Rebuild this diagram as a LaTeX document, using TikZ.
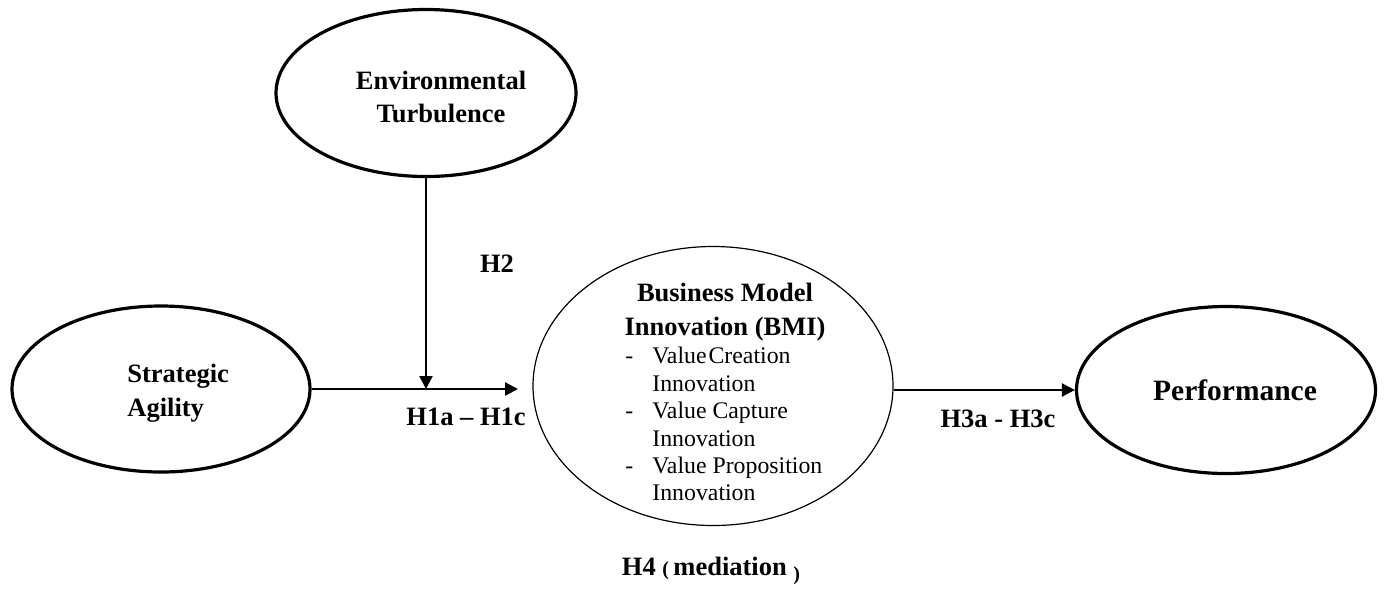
\documentclass[tikz,border=0pt]{standalone}
\usepackage{fontspec}
\setmainfont{Liberation Serif}
\usetikzlibrary{shapes.geometric,arrows.meta}

\tikzset{
    oval/.style={ellipse,draw,line width=1.6pt,inner sep=0pt},
    thinoval/.style={ellipse,draw,line width=0.6pt,inner sep=0pt},
    link/.style={line width=1.2pt,-{Triangle[length=6.5pt,width=6.5pt]}},
    title/.style={inner sep=0pt,font=\bfseries\fontsize{13.25pt}{16.5pt}\selectfont},
    hyp/.style={anchor=base,inner sep=0pt,font=\bfseries\fontsize{13.25pt}{16pt}\selectfont}
}
\newcommand{\bmiitem}[1]{\makebox[13.5pt][l]{-}#1}
\newcommand{\bmicont}[1]{\makebox[13.5pt][l]{}#1}

\begin{document}
\begin{tikzpicture}[x=0.5pt,y=-0.5pt]
        \useasboundingbox (0,0) rectangle (1384,596);
        % 四个椭圆
        \node [oval,minimum width=150pt,minimum height=83.5pt] (env) at (426,93) {};
        \node [oval,minimum width=149pt,minimum height=83pt] (sa) at (161,389) {};
        \node [thinoval,minimum width=180pt,minimum height=139.5pt] (bmi) at (713,386) {};
        \node [oval,minimum width=149.5pt,minimum height=83.5pt] (perf) at (1226,390) {};
        % 文字
        \node [title,anchor=north,align=center] (envtext) at (441,71) {Environmental\\Turbulence};
        \node [title,anchor=north west,align=left,font=\bfseries\fontsize{13.25pt}{17pt}\selectfont] (satext) at (127,364) {Strategic\\Agility};
        \node [title,anchor=north,align=center,font=\bfseries\fontsize{13.25pt}{17pt}\selectfont] (bmititle) at (725,283) {Business Model\\Innovation (BMI)};
        \node [anchor=north west,inner sep=0pt,align=left,font=\fontsize{11.9pt}{13.7pt}\selectfont] (bmilist) at (625,347)
            {\bmiitem{Value\hspace{1pt}Creation}\\\bmicont{Innovation}\\
             \bmiitem{Value Capture}\\\bmicont{Innovation}\\
             \bmiitem{Value Proposition}\\\bmicont{Innovation}};
        \node [anchor=base,inner sep=0pt,font=\bfseries\fontsize{14.75pt}{17pt}\selectfont] (perftext) at (1235,400) {Performance};
        % 箭头
        \coordinate (h1end) at (518,389);
        \coordinate (join) at (env.south |- sa.east);
        \draw [link] (sa.east) -- (h1end);
        \draw [link] (env.south) -- (join);
        \draw [link] (bmi.east |- perf.west) -- (perf.west);
        % 假设标签
        \node [hyp] (h2) at (497,272) {H2};
        \node [hyp] (h1) at (466,425) {H1a -- H1c};
        \node [hyp] (h3) at (998,427) {H3a - H3c};
        \node [hyp] (h4) at (711,575) {H4 {\fontsize{10pt}{12pt}\selectfont(}\,mediation {\fontsize{10pt}{12pt}\selectfont\raisebox{-2.5pt}{)}}};
\end{tikzpicture}
\end{document}
